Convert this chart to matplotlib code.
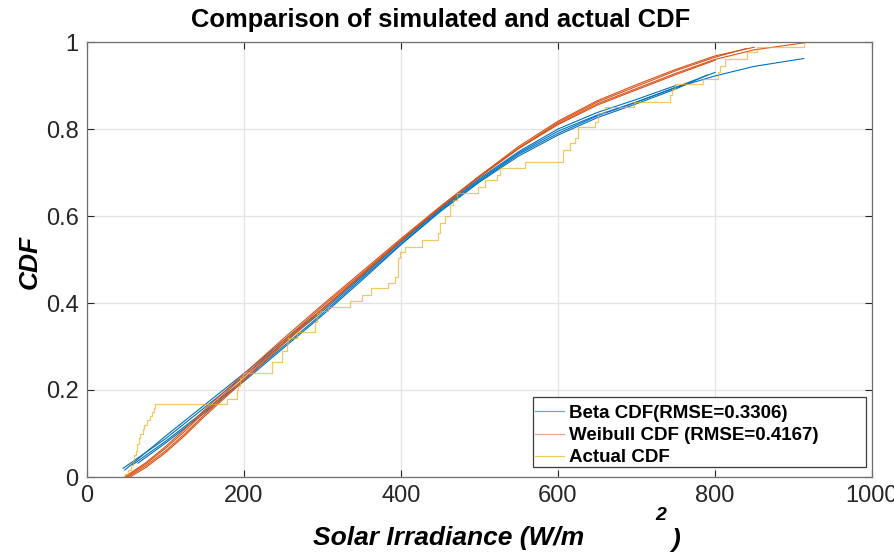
import matplotlib
matplotlib.use('Agg')
import matplotlib.pyplot as plt
from matplotlib.lines import Line2D
from matplotlib.patches import Rectangle

plt.rcParams['font.family'] = ['Liberation Sans', 'DejaVu Sans']

# fitted Beta CDF curves (several runs)
beta_x1 = [46, 100, 150, 200, 250, 300, 350, 400, 450, 500, 550, 600, 650, 700, 750, 800, 850, 913]
beta_y1 = [0.020, 0.088, 0.160, 0.232, 0.308, 0.381, 0.460, 0.540, 0.615, 0.683, 0.745, 0.795, 0.832, 0.862, 0.895, 0.922, 0.944, 0.962]
beta_x2 = [58, 100, 150, 200, 250, 300, 350, 400, 450, 500, 550, 600, 650, 700, 750, 800]
beta_y2 = [0.028, 0.082, 0.152, 0.224, 0.300, 0.376, 0.456, 0.536, 0.612, 0.680, 0.742, 0.790, 0.830, 0.862, 0.896, 0.930]
beta_x3 = [48, 100, 150, 200, 250, 300, 350, 400, 450, 500, 550, 600, 650, 700, 750]
beta_y3 = [0.016, 0.094, 0.166, 0.238, 0.313, 0.386, 0.463, 0.542, 0.617, 0.686, 0.748, 0.800, 0.838, 0.868, 0.900]
beta_x4 = [65, 100, 150, 200, 250, 300, 350, 400, 450, 500, 550, 600, 650, 700, 750, 790]
beta_y4 = [0.032, 0.078, 0.148, 0.220, 0.296, 0.372, 0.452, 0.534, 0.610, 0.678, 0.738, 0.786, 0.826, 0.858, 0.892, 0.924]

# fitted Weibull CDF curves
weib_x1 = [50, 75, 100, 125, 150, 200, 250, 300, 350, 400, 450, 500, 550, 600, 650, 700, 750, 800, 850, 913]
weib_y1 = [0.000, 0.030, 0.066, 0.106, 0.150, 0.232, 0.313, 0.392, 0.468, 0.545, 0.620, 0.690, 0.755, 0.812, 0.858, 0.893, 0.928, 0.960, 0.982, 0.998]
weib_x2 = [52, 75, 100, 125, 150, 200, 250, 300, 350, 400, 450, 500, 550, 600, 650, 700, 750, 800, 840]
weib_y2 = [0.000, 0.026, 0.060, 0.100, 0.144, 0.226, 0.308, 0.387, 0.465, 0.543, 0.619, 0.690, 0.756, 0.815, 0.862, 0.898, 0.934, 0.965, 0.985]
weib_x3 = [48, 75, 100, 125, 150, 200, 250, 300, 350, 400, 450, 500, 550, 600, 650, 700, 750, 800]
weib_y3 = [0.000, 0.033, 0.070, 0.111, 0.155, 0.237, 0.318, 0.396, 0.472, 0.548, 0.622, 0.692, 0.756, 0.810, 0.855, 0.890, 0.925, 0.958]
weib_x4 = [55, 75, 100, 125, 150, 200, 250, 300, 350, 400, 450, 500, 550, 600, 650, 700, 750, 800, 850]
weib_y4 = [0.000, 0.022, 0.056, 0.096, 0.140, 0.222, 0.305, 0.385, 0.464, 0.543, 0.620, 0.692, 0.760, 0.818, 0.865, 0.902, 0.937, 0.968, 0.988]

# empirical CDF (stairs)
act_x = [48, 49, 52, 56, 58, 60, 62, 64, 66, 68, 71, 73, 76, 80, 83, 85, 87,
         178, 191, 192, 195, 199, 236, 248, 255, 256, 268, 290, 293, 297, 307,
         335, 350, 362, 383, 392, 396, 399, 405, 427, 447, 450, 456, 462, 466, 471,
         498, 507, 522, 526, 558, 606, 615, 622, 625, 647, 651, 660, 697,
         743, 745, 749, 785, 804, 806, 813, 841, 854, 913]
act_y = [0.000, 0.006, 0.017, 0.028, 0.040, 0.050, 0.060, 0.075, 0.090, 0.100, 0.110, 0.120, 0.130, 0.140, 0.150, 0.158, 0.168,
         0.180, 0.200, 0.210, 0.227, 0.240, 0.265, 0.290, 0.307, 0.320, 0.333, 0.357, 0.377, 0.382, 0.390,
         0.405, 0.418, 0.434, 0.446, 0.460, 0.503, 0.517, 0.529, 0.545, 0.560, 0.584, 0.600, 0.625, 0.637, 0.653,
         0.667, 0.683, 0.694, 0.710, 0.724, 0.752, 0.768, 0.779, 0.805, 0.816, 0.837, 0.850, 0.862,
         0.878, 0.892, 0.903, 0.915, 0.931, 0.945, 0.960, 0.977, 0.989, 1.000]

blue = '#0072BD'
red = '#D95319'
yellow = '#EDB120'

fig = plt.figure(figsize=(8.95, 5.52), dpi=100)
ax = fig.add_axes([87/895, 75/552, 785/895, 435/552])

for bx, by in [(beta_x1, beta_y1), (beta_x2, beta_y2), (beta_x3, beta_y3), (beta_x4, beta_y4)]:
    ax.plot(bx, by, color=blue, lw=0.8)
for wx, wy in [(weib_x1, weib_y1), (weib_x2, weib_y2), (weib_x3, weib_y3), (weib_x4, weib_y4)]:
    ax.plot(wx, wy, color=red, lw=0.8)
ax.plot(act_x, act_y, color=yellow, lw=0.9, drawstyle='steps-post', alpha=0.7)

ax.set_xlim(0, 1000)
ax.set_ylim(0, 1)
ax.set_xticks([0, 200, 400, 600, 800, 1000])
ax.set_yticks([0, 0.2, 0.4, 0.6, 0.8, 1])
ax.set_yticklabels(['0', '0.2', '0.4', '0.6', '0.8', '1'])
ax.grid(True, color='#e3e3e3', lw=0.9)
ax.set_axisbelow(True)
ax.tick_params(direction='in', length=5, width=0.8, colors='#262626', labelsize=17,
               top=True, right=True, pad=6)
for s in ax.spines.values():
    s.set_color('#6e6e6e')
    s.set_linewidth(0.9)

fig.text(441/895, 1 - 20/552, 'Comparison of simulated and actual CDF', ha='center', va='center',
         fontsize=18.4, fontweight='bold')

# axis labels
fig.text(449/895, 1 - 538/552, 'Solar Irradiance (W/m', ha='center', va='center',
         fontsize=19, fontweight='bold', style='italic')
fig.text(661/895, 1 - 516/552, '2', ha='center', va='center',
         fontsize=14, fontweight='bold', style='italic')
fig.text(676/895, 1 - 540/552, ')', ha='center', va='center',
         fontsize=19, fontweight='bold', style='italic')
fig.text(30/895, 1 - 262/552, 'CDF', ha='center', va='center', rotation=90,
         fontsize=19, fontweight='bold', style='italic')

# legend: entries without frame, box drawn separately
handles = [Line2D([], [], color=blue, lw=0.9, alpha=0.6),
           Line2D([], [], color=red, lw=0.9, alpha=0.5),
           Line2D([], [], color=yellow, lw=0.9, alpha=0.7)]
labels = ['Beta CDF(RMSE=0.3306)', 'Weibull CDF (RMSE=0.4167)', 'Actual CDF']
leg = ax.legend(handles, labels, loc='upper left', bbox_to_anchor=((533 - 87) / 785, (477 - 403) / 435),
                bbox_transform=ax.transAxes, prop={'weight': 'bold', 'size': 13.5},
                frameon=False, borderpad=0.0, labelspacing=0.27, handlelength=1.55,
                handletextpad=0.25, borderaxespad=0.1)
box = Rectangle(((533 - 87) / 785, (477 - 467) / 435), (866 - 533) / 785, (467 - 397) / 435,
                transform=ax.transAxes, facecolor='white', edgecolor='#3a3a3a', lw=0.9, zorder=4)
ax.add_patch(box)
leg.set_zorder(5)

fig.savefig('out.png', dpi=100)
